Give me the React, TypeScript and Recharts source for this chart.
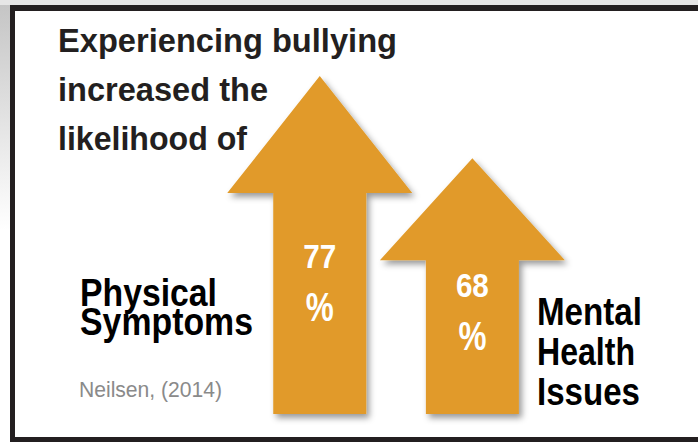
import { Bar, BarChart, XAxis, YAxis } from "recharts";

const categories = ["Physical Symptoms", "Mental Health Issues"];
const values = [77, 68];
const valueLabels = ["77", "68"];
const titleLines = ["Experiencing bullying", "increased the", "likelihood of"];
const leftLabel = ["Physical", "Symptoms"];
const rightLabel = ["Mental", "Health", "Issues"];
const citation = "Neilsen, (2014)";

const ORANGE = "#E19A29";
const HEAD_H = [117, 102];
const HEAD_W = 185;
const LABEL_DY = [192, 139];

const data = categories.map((name, i) => ({ name, value: values[i], label: valueLabels[i] }));

const ArrowShape = (props: any) => {
  const { x, y, width, height, index, payload } = props;
  const cx = x + width / 2;
  const headH = HEAD_H[index] ?? 110;
  const pts = [
    [cx, y],
    [cx + HEAD_W / 2, y + headH],
    [x + width, y + headH],
    [x + width, y + height],
    [x, y + height],
    [x, y + headH],
    [cx - HEAD_W / 2, y + headH],
  ]
    .map((p) => p.join(","))
    .join(" ");
  const ly = y + LABEL_DY[index];
  return (
    <g>
      <defs>
        <filter id="arrowShadow" x="-20%" y="-20%" width="140%" height="140%">
          <feDropShadow dx="3" dy="4" stdDeviation="3" floodColor="#000" floodOpacity="0.4" />
        </filter>
      </defs>
      <polygon points={pts} fill={ORANGE} filter="url(#arrowShadow)" />
      <text
        x={cx - 16.5}
        y={ly}
        fill="#fff"
        fontFamily="'Liberation Sans', Arial, sans-serif"
        fontWeight="bold"
        fontSize={33}
        textLength={33}
        lengthAdjust="spacingAndGlyphs"
      >
        {payload.label}
      </text>
      <text
        x={cx - 14}
        y={ly + 53}
        fill="#fff"
        fontFamily="'Liberation Sans', Arial, sans-serif"
        fontWeight="bold"
        fontSize={40}
        textLength={28}
        lengthAdjust="spacingAndGlyphs"
      >
        %
      </text>
    </g>
  );
};

const boldText = {
  fontFamily: "'Liberation Sans', Arial, sans-serif",
  fontWeight: "bold" as const,
};

export default function App() {
  return (
    <div style={{ position: "fixed", left: 0, top: 0, width: 698, height: 442, background: "#fff", overflow: "hidden" }}>
      <svg width={698} height={442} style={{ position: "absolute", left: 0, top: 0 }}>
        <defs>
          <linearGradient id="edgeV" x1="0" y1="0" x2="0" y2="1">
            <stop offset="0" stopColor="#c4c4c4" />
            <stop offset="1" stopColor="#ffffff" />
          </linearGradient>
        </defs>
        <rect x={0} y={0} width={10} height={230} fill="url(#edgeV)" />
        <rect x={0} y={0} width={698} height={5} fill="#e6e6e6" />
      </svg>
      <div style={{ position: "absolute", left: 0, top: 0 }}>
        <BarChart
          width={698}
          height={442}
          data={data}
          margin={{ top: 48.7, right: 149.5, bottom: 28, left: 243.25 }}
          barSize={93}
        >
          <XAxis dataKey="name" hide />
          <YAxis domain={[40, 80]} hide />
          <Bar dataKey="value" shape={<ArrowShape />} isAnimationActive={false} />
        </BarChart>
      </div>
      <svg width={698} height={442} style={{ position: "absolute", left: 0, top: 0, pointerEvents: "none" }}>
        <rect x={10} y={5} width={688} height={6} fill="#231f20" />
        <rect x={10} y={5} width={5} height={437} fill="#231f20" />
        <rect x={10} y={437} width={688} height={5} fill="#231f20" />
        {titleLines.map((t, i) => (
          <text
            key={t}
            x={58}
            y={51.5 + i * 49}
            fill="#231f20"
            fontSize={33}
            textLength={[339, 210, 189][i]}
            lengthAdjust="spacingAndGlyphs"
            {...boldText}
          >
            {t}
          </text>
        ))}
        {leftLabel.map((t, i) => (
          <text
            key={t}
            x={80}
            y={306 + i * 29}
            fill="#000"
            fontSize={39}
            textLength={[137, 173][i]}
            lengthAdjust="spacingAndGlyphs"
            {...boldText}
          >
            {t}
          </text>
        ))}
        {rightLabel.map((t, i) => (
          <text
            key={t}
            x={537}
            y={325 + i * 40}
            fill="#000"
            fontSize={38}
            textLength={[105, 98, 103][i]}
            lengthAdjust="spacingAndGlyphs"
            {...boldText}
          >
            {t}
          </text>
        ))}
        <text
          x={79}
          y={397}
          fill="#8a8a8a"
          fontSize={22}
          fontFamily="'Liberation Sans', Arial, sans-serif"
          textLength={143}
          lengthAdjust="spacingAndGlyphs"
        >
          {citation}
        </text>
      </svg>
    </div>
  );
}
